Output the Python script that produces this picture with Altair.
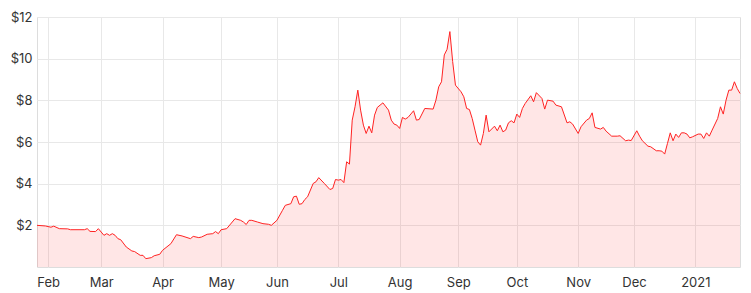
import json
import altair as alt
import pandas as pd

# The x axis counts trading sessions (weekends and market holidays skipped).
# session index (0 = 2020-01-27) and closing price
session_idx = [1, 4, 6, 7, 9, 12, 13, 18, 19, 20, 22, 23, 25, 26, 27, 28, 29, 30, 31, 33,
               35, 36, 38, 39, 40, 42, 43, 45, 46, 49, 51, 53, 56, 57, 59, 60, 62, 64, 65, 66,
               67, 69, 71, 72, 74, 75, 76, 77, 78, 80, 82, 84, 85, 87, 89, 90, 92, 93, 94, 95,
               96, 97, 98, 100, 101, 102, 104, 106, 107, 108, 109, 110, 111, 112, 113, 114, 115, 116, 117, 118,
               119, 120, 121, 122, 123, 125, 127, 128, 129, 130, 131, 132, 133, 134, 136, 137, 138, 140, 143, 144,
               145, 146, 147, 148, 149, 150, 151, 153, 154, 155, 156, 157, 158, 159, 160, 161, 162, 163, 165, 166,
               167, 168, 169, 170, 171, 172, 173, 174, 175, 176, 178, 179, 180, 182, 183, 184, 186, 187, 189, 191,
               192, 193, 195, 196, 198, 199, 200, 201, 203, 204, 205, 207, 209, 210, 212, 213, 214, 216, 217, 218,
               220, 221, 223, 224, 225, 226, 227, 228, 229, 230, 231, 232, 233, 234, 235, 236, 238, 239, 240, 241,
               242, 243, 245, 246, 247, 248, 249, 250, 251, 252, 253]
prices = [2.00, 1.97, 1.91, 1.96, 1.84, 1.83, 1.79, 1.79, 1.84, 1.71, 1.70, 1.84, 1.52, 1.60, 1.52, 1.60, 1.52, 1.36, 1.31, 0.96,
          0.77, 0.74, 0.56, 0.56, 0.40, 0.45, 0.54, 0.61, 0.80, 1.12, 1.55, 1.49, 1.36, 1.47, 1.41, 1.44, 1.57, 1.60, 1.70, 1.60,
          1.79, 1.84, 2.16, 2.32, 2.24, 2.16, 2.04, 2.24, 2.24, 2.16, 2.08, 2.05, 2.00, 2.24, 2.72, 2.96, 3.04, 3.37, 3.40, 3.01,
          3.04, 3.24, 3.37, 4.01, 4.09, 4.29, 4.01, 3.72, 3.77, 4.20, 4.17, 4.20, 4.05, 5.05, 4.94, 7.05, 7.69, 8.49, 7.53, 6.81,
          6.41, 6.76, 6.44, 7.29, 7.66, 7.88, 7.53, 7.05, 6.86, 6.81, 6.65, 7.18, 7.10, 7.18, 7.50, 7.05, 7.08, 7.61, 7.58, 8.01,
          8.65, 8.89, 10.18, 10.45, 11.30, 9.86, 8.73, 8.41, 8.17, 7.61, 7.56, 7.13, 6.57, 6.01, 5.85, 6.41, 7.29, 6.49, 6.76, 6.54,
          6.81, 6.49, 6.57, 6.92, 7.02, 6.92, 7.34, 7.18, 7.61, 7.85, 8.22, 7.93, 8.37, 8.09, 7.58, 8.01, 7.96, 7.77, 7.69, 6.92,
          6.97, 6.86, 6.41, 6.73, 7.05, 7.13, 7.40, 6.70, 6.62, 6.70, 6.52, 6.28, 6.28, 6.30, 6.06, 6.09, 6.07, 6.54, 6.28, 6.06,
          5.80, 5.77, 5.58, 5.58, 5.56, 5.42, 5.93, 6.44, 6.06, 6.38, 6.22, 6.44, 6.44, 6.38, 6.20, 6.25, 6.38, 6.38, 6.17, 6.44,
          6.28, 6.57, 7.13, 7.69, 7.34, 8.01, 8.49, 8.49, 8.89, 8.57, 8.33]
market_holidays = ["2020-02-17", "2020-04-10", "2020-05-25", "2020-07-03", "2020-09-07",
                   "2020-11-26", "2020-12-25", "2021-01-01", "2021-01-18"]
y_ticks = [2, 4, 6, 8, 10, 12]

# trading calendar
days = pd.bdate_range("2020-01-27", "2021-01-29")
sessions = days[~days.isin(pd.to_datetime(market_holidays))]

df = pd.DataFrame({
    "session": session_idx,
    "date": [sessions[i].strftime("%Y-%m-%d") for i in session_idx],
    "price": prices,
})

# first session of each month -> tick positions and labels
cal = pd.DataFrame({"d": sessions, "i": range(len(sessions))})
firsts = cal.groupby(cal["d"].dt.to_period("M")).first()
firsts = firsts[(firsts["d"] > "2020-01-31") & (firsts["d"] < "2021-01-31")]
tick_vals = [int(v) for v in firsts["i"]]
tick_labels = [d.strftime("%Y") if d.month == 1 else d.strftime("%b") for d in firsts["d"]]
label_expr = f"{json.dumps(tick_labels)}[indexof({json.dumps(tick_vals)}, datum.value)]"

FONT = "Inter"
LABEL_COLOR = "#333333"
GRID = "#e8e8e8"

x_enc = alt.X(
    "session:Q",
    title=None,
    scale=alt.Scale(nice=False, zero=False),
    axis=alt.Axis(
        values=tick_vals,
        labelExpr=label_expr,
        grid=True,
        gridColor=GRID,
        ticks=False,
        domain=False,
        labelPadding=9,
        labelFontSize=13,
        labelFont=FONT,
        labelColor=LABEL_COLOR,
    ),
)
y_enc = alt.Y(
    "price:Q",
    title=None,
    scale=alt.Scale(domain=[0, 12], nice=False),
    axis=alt.Axis(
        values=y_ticks,
        format="$d",
        grid=True,
        gridColor=GRID,
        ticks=False,
        domain=False,
        labelPadding=5,
        labelFontSize=13,
        labelFont=FONT,
        labelColor=LABEL_COLOR,
    ),
)

area = alt.Chart(df).mark_area(color="#ff1f1f", opacity=0.11).encode(x=x_enc, y=y_enc)
line = alt.Chart(df).mark_line(color="#ff2222", strokeWidth=1).encode(x="session:Q", y="price:Q")

chart = (
    alt.layer(area, line)
    .properties(
        width=703,
        height=250,
        autosize=alt.AutoSizeParams(type="none"),
        padding={"left": 37, "top": 17, "right": 11, "bottom": 26},
    )
    .configure_view(stroke="#dddddd", strokeWidth=1)
    .configure(background="white")
)

chart.save("out.html", embed_options={"renderer": "svg", "actions": False})
